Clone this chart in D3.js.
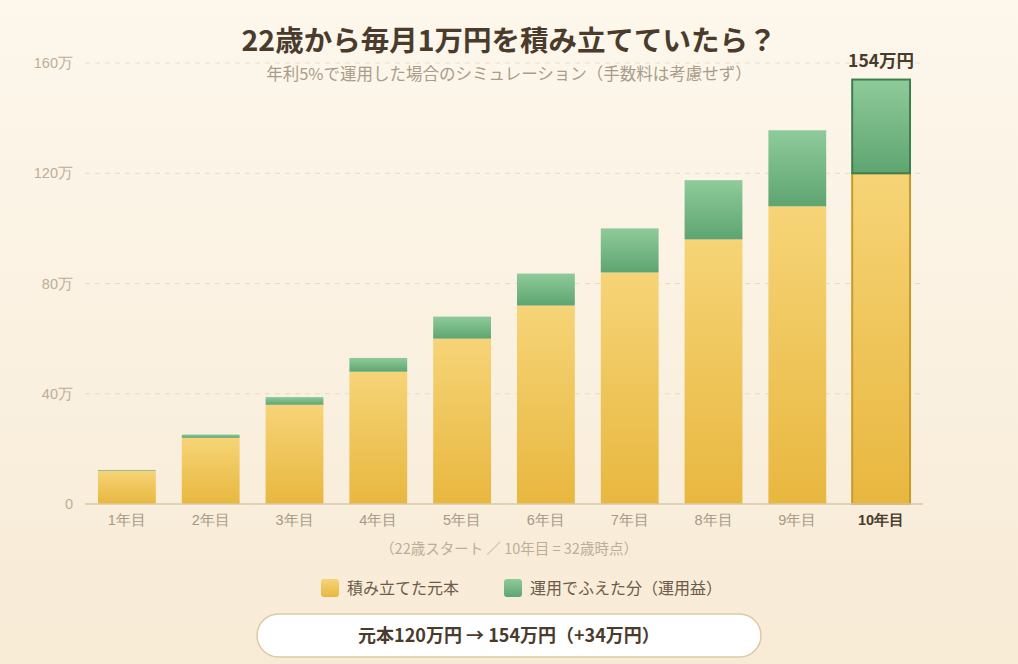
<!DOCTYPE html>
<html lang="ja">
<head>
    <meta charset="UTF-8">
    <title>22歳から毎月1万円を積み立てていたら？</title>
    <script src="https://d3js.org/d3.v7.min.js"></script>
    <style>
        html, body { margin: 0; padding: 0; }
        body { width: 1018px; height: 664px; overflow: hidden; }
        svg { display: block; font-family: "Noto Sans CJK JP", "Noto Sans", sans-serif; }
        .tick-y { fill: #bcae98; font-size: 14.5px; }
        .tick-x { fill: #a89886; font-size: 14.5px; }
    </style>
</head>
<body>
    <script>
        // データ
        const years = ["1年目", "2年目", "3年目", "4年目", "5年目", "6年目", "7年目", "8年目", "9年目", "10年目"];
        const principal = [12, 24, 36, 48, 60, 72, 84, 96, 108, 120];
        const gain = [0.3, 1.2, 2.8, 5.0, 8.0, 11.6, 16.0, 21.5, 27.6, 34];
        const yTicks = [0, 40, 80, 120, 160];
        const legendLabels = ["積み立てた元本", "運用でふえた分（運用益）"];

        const width = 1018;
        const height = 664;
        const margin = { top: 63, right: 95, bottom: 160, left: 85 };

        const svg = d3.select("body").append("svg")
            .attr("width", width)
            .attr("height", height);

        const defs = svg.append("defs");

        // 背景グラデーション
        const bg = defs.append("linearGradient").attr("id", "bg")
            .attr("x1", 0).attr("y1", 0).attr("x2", 0).attr("y2", 1);
        bg.append("stop").attr("offset", "0%").attr("stop-color", "#fdf7ec");
        bg.append("stop").attr("offset", "100%").attr("stop-color", "#f8ebd6");

        const gold = defs.append("linearGradient").attr("id", "gold")
            .attr("x1", 0).attr("y1", 0).attr("x2", 0).attr("y2", 1);
        gold.append("stop").attr("offset", "0%").attr("stop-color", "#f6d477");
        gold.append("stop").attr("offset", "100%").attr("stop-color", "#e8b73f");

        const green = defs.append("linearGradient").attr("id", "green")
            .attr("x1", 0).attr("y1", 0).attr("x2", 0).attr("y2", 1);
        green.append("stop").attr("offset", "0%").attr("stop-color", "#8fcb9a");
        green.append("stop").attr("offset", "100%").attr("stop-color", "#5ea571");

        svg.append("rect")
            .attr("width", width).attr("height", height)
            .attr("fill", "url(#bg)");

        // スケール
        const x = d3.scaleBand()
            .domain(years)
            .range([margin.left, width - margin.right])
            .paddingInner(0.31)
            .paddingOuter(0.155);

        const y = d3.scaleLinear()
            .domain([0, 160])
            .range([height - margin.bottom, margin.top]);

        // グリッド線
        svg.append("g")
            .selectAll("line")
            .data(yTicks.slice(1))
            .join("line")
            .attr("x1", margin.left)
            .attr("x2", width - margin.right)
            .attr("y1", d => y(d))
            .attr("y2", d => y(d))
            .attr("stroke", "#e9dcc6")
            .attr("stroke-width", 1)
            .attr("stroke-dasharray", "5,5");

        // y軸
        const yAxis = svg.append("g")
            .attr("transform", `translate(${margin.left},0)`)
            .call(d3.axisLeft(y).tickValues(yTicks).tickSize(0).tickPadding(12)
                .tickFormat(d => d === 0 ? "0" : d + "万"));
        yAxis.select(".domain").remove();
        yAxis.selectAll("text").attr("class", "tick-y").attr("font-family", null).attr("font-size", null);

        // 棒（積み上げ）
        const stackData = years.map((yr, i) => ({ year: yr, p: principal[i], g: gain[i] }));
        const bars = svg.append("g")
            .selectAll("g")
            .data(stackData)
            .join("g");

        bars.append("rect")
            .attr("x", d => x(d.year))
            .attr("y", d => y(d.p))
            .attr("width", x.bandwidth())
            .attr("height", d => y(0) - y(d.p))
            .attr("fill", "url(#gold)")
            .attr("stroke", (d, i) => i === years.length - 1 ? "#c99a2a" : "none")
            .attr("stroke-width", 2);

        bars.append("rect")
            .attr("x", d => x(d.year))
            .attr("y", d => y(d.p + d.g))
            .attr("width", x.bandwidth())
            .attr("height", d => y(d.p) - y(d.p + d.g))
            .attr("fill", "url(#green)")
            .attr("stroke", (d, i) => i === years.length - 1 ? "#3f7d4d" : "none")
            .attr("stroke-width", 2);

        // 基準線
        svg.append("line")
            .attr("x1", margin.left)
            .attr("x2", width - margin.right)
            .attr("y1", y(0))
            .attr("y2", y(0))
            .attr("stroke", "#d9c8a8")
            .attr("stroke-width", 1.5);

        // x軸
        const xAxis = svg.append("g")
            .attr("transform", `translate(0,${y(0)})`)
            .call(d3.axisBottom(x).tickSize(0).tickPadding(11));
        xAxis.select(".domain").remove();
        xAxis.selectAll("text")
            .attr("class", "tick-x")
            .attr("font-family", null).attr("font-size", null)
            .style("font-weight", (d, i) => i === years.length - 1 ? "bold" : "normal")
            .style("fill", (d, i) => i === years.length - 1 ? "#4a3b2c" : null);

        // 最終値ラベル
        const last = stackData[stackData.length - 1];
        svg.append("text")
            .attr("x", x(last.year) + x.bandwidth() / 2)
            .attr("y", y(last.p + last.g) - 13)
            .attr("text-anchor", "middle")
            .attr("fill", "#4a3b2c")
            .attr("font-size", 17.5)
            .attr("font-weight", "bold")
            .text(Math.round(last.p + last.g) + "万円");

        // タイトル
        svg.append("text")
            .attr("x", width / 2)
            .attr("y", 51)
            .attr("text-anchor", "middle")
            .attr("fill", "#4a3b2c")
            .attr("font-size", 28.5)
            .attr("font-weight", "bold")
            .text("22歳から毎月1万円を積み立てていたら？");

        svg.append("text")
            .attr("x", width / 2)
            .attr("y", 80)
            .attr("text-anchor", "middle")
            .attr("fill", "#aa9c88")
            .attr("font-size", 16.5)
            .text("年利5%で運用した場合のシミュレーション（手数料は考慮せず）");

        // 注記
        svg.append("text")
            .attr("x", width / 2)
            .attr("y", 554)
            .attr("text-anchor", "middle")
            .attr("fill", "#bcae98")
            .attr("font-size", 14.5)
            .text("（22歳スタート ／ 10年目 = 32歳時点）");

        // 凡例
        const legendX = [321, 504];
        const legendFill = ["url(#gold)", "url(#green)"];
        const legend = svg.append("g")
            .selectAll("g")
            .data(legendLabels)
            .join("g")
            .attr("transform", (d, i) => `translate(${legendX[i]},579)`);
        legend.append("rect")
            .attr("width", 18).attr("height", 18).attr("rx", 3)
            .attr("fill", (d, i) => legendFill[i]);
        legend.append("text")
            .attr("x", 26).attr("y", 15)
            .attr("fill", "#6b5b4a")
            .attr("font-size", 16)
            .text(d => d);

        // まとめボックス
        const total = Math.round(last.p + last.g);
        svg.append("rect")
            .attr("x", 257).attr("y", 614)
            .attr("width", 504).attr("height", 43)
            .attr("rx", 21.5)
            .attr("fill", "#ffffff")
            .attr("stroke", "#dccaa6")
            .attr("stroke-width", 1.5);
        svg.append("text")
            .attr("x", 509).attr("y", 642)
            .attr("text-anchor", "middle")
            .attr("fill", "#4a3b2c")
            .attr("font-size", 18)
            .attr("font-weight", "bold")
            .text(`元本${last.p}万円 → ${total}万円（+${total - last.p}万円）`);
    </script>
</body>
</html>
